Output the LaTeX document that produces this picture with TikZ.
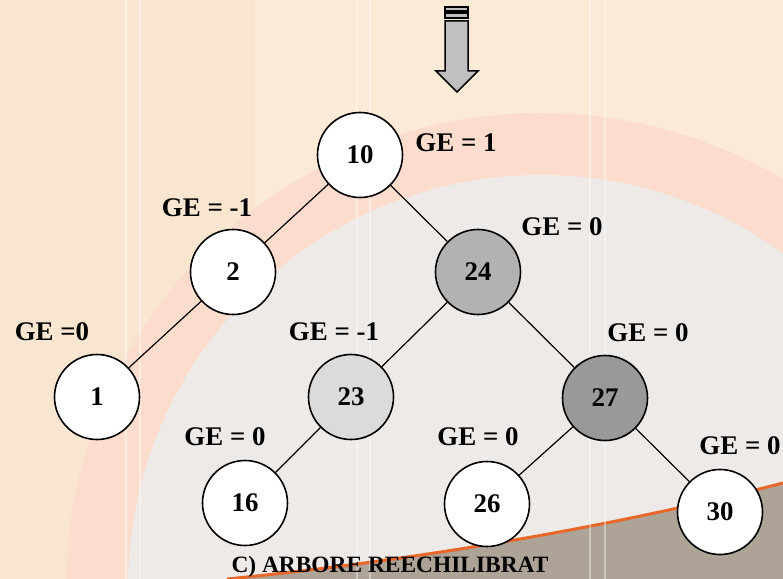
\documentclass[tikz,border=0pt]{standalone}
\usepackage{fontspec}
\setmainfont{Liberation Serif}
\usepackage{tikz}
\usepackage{xcolor}

\definecolor{cream}{HTML}{FBEAD6}
\definecolor{tan}{HTML}{F4E0CA}
\definecolor{band}{HTML}{FCDCCC}
\definecolor{inner}{HTML}{EEEAE7}
\definecolor{ground}{HTML}{ADA396}
\definecolor{rim}{HTML}{E8672A}
\definecolor{arrowgray}{HTML}{C0C0C0}

\begin{document}
\begin{tikzpicture}[x=1bp,y=-1bp]
\useasboundingbox (0,0) rectangle (783,579);

% background
\fill[cream] (0,0) rectangle (783,579);
\fill[tan, opacity=.35] (0,0) rectangle (255,579);
\fill[band] (541,588) circle [radius=475bp];
\fill[inner] (541,588) circle [radius=413bp];
\fill[ground] (227,579) .. controls (400,562) and (600,530) .. (783,483) -- (783,579) -- cycle;
\draw[rim, line width=3bp] (227,579) .. controls (400,562) and (600,530) .. (783,483);
\foreach \x in {126,140,357,370,590,605}
  \draw[white, opacity=.4, line width=2bp] (\x,0) -- (\x,579);

% arrow
\draw[fill=arrowgray, line width=1.5bp] (445,7) rectangle (468,11);
\draw[fill=arrowgray, line width=1.5bp] (445,13) rectangle (468,18);
\draw[fill=arrowgray, line width=1.5bp] (445,21) -- (468,21) -- (468,71) -- (478,71)
  -- (457,92) -- (436,71) -- (445,71) -- cycle;

\begin{scope}[every node/.style={font=\fontsize{27}{32}\selectfont\bfseries}]
\begin{scope}[every node/.style={circle,draw,line width=1.6bp,fill=white,minimum size=85bp,inner sep=0pt,
    font=\fontsize{27}{32}\selectfont\bfseries}]
\node (10) at (360,155) {10};
\node (2) at (233,272) {2};
\node[fill=gray!60] (24) at (478,272) {24};
\node (1) at (97,397) {1};
\node[fill=gray!28] (23) at (351,397) {23};
\node[fill=black!40] (27) at (605,398) {27};
\node (16) at (245,503) {16};
\node (26) at (487,504) {26};
\node (30) at (720,512) {30};
\end{scope}

\draw[line width=1.2bp] (10) -- (2);
\draw[line width=1.2bp] (10) -- (24);
\draw[line width=1.2bp] (2) -- (1);
\draw[line width=1.2bp] (24) -- (23);
\draw[line width=1.2bp] (24) -- (27);
\draw[line width=1.2bp] (23) -- (16);
\draw[line width=1.2bp] (27) -- (26);
\draw[line width=1.2bp] (27) -- (30);

\node (ge10) at (456,143) {GE = 1};
\node (ge2) at (207,208) {GE = -1};
\node (ge24) at (562,227) {GE = 0};
\node (ge1) at (52,332) {GE =0};
\node (ge23) at (334,332) {GE = -1};
\node (ge27) at (648,333) {GE = 0};
\node (ge16) at (225,437) {GE = 0};
\node (ge26) at (478,437) {GE = 0};
\node (ge30) at (740,446) {GE = 0};

\node[font=\fontsize{23.5}{28}\selectfont\bfseries] (title) at (390,567) {C) ARBORE REECHILIBRAT};
\end{scope}

\end{tikzpicture}
\end{document}
